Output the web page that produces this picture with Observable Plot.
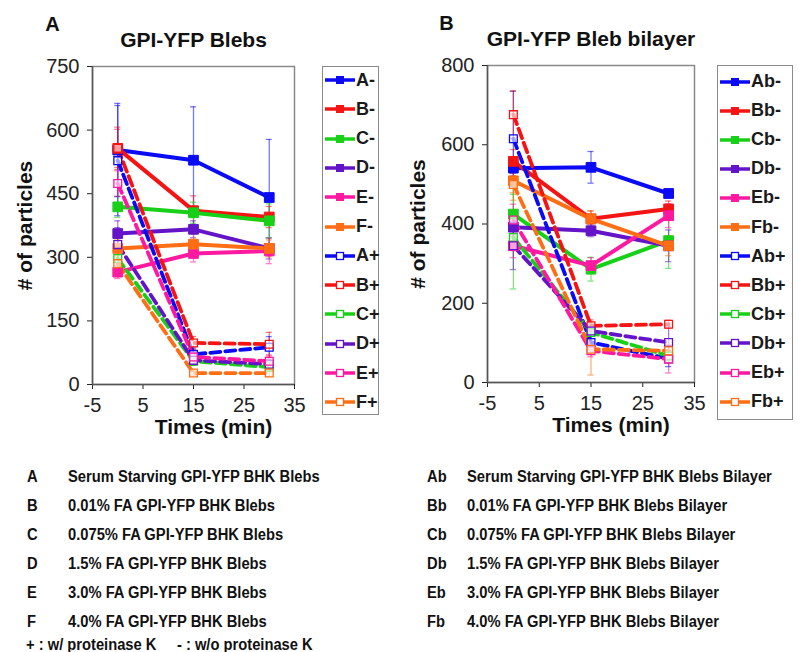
<!DOCTYPE html>
<html>
<head>
<meta charset="utf-8">
<script src="https://cdn.jsdelivr.net/npm/d3@7"></script>
<script src="https://cdn.jsdelivr.net/npm/@observablehq/plot@0.6"></script>
<style>
  body { margin: 0; background: #fff; }
  #fig { position: relative; width: 811px; height: 652px; font-family: "Liberation Sans", Arial, sans-serif; color: #1a1a1a; overflow: hidden; }
  .panel { position: absolute; top: 0; }
  .legend { position: absolute; border: 1.5px solid #8a8a8a; box-sizing: border-box; background: #fff; }
  .lg { position: absolute; display: flex; align-items: center; font-weight: bold; font-size: 18px; white-space: nowrap; }
  .lg svg { display: block; margin-right: 1px; }
  .note { position: absolute; font-family: "Liberation Sans", Arial, sans-serif; font-weight: bold; font-size: 16px; white-space: nowrap; line-height: 1; transform: translateY(-50%) scaleX(0.92); transform-origin: 0 50%; color: #111; }
</style>
</head>
<body>
<div id="fig"></div>
<script>
// ---------- data ----------
const times = [0, 15, 30];
const xTicks = [-5, 5, 15, 25, 35];
const yTicksA = [0, 150, 300, 450, 600, 750];
const yTicksB = [0, 200, 400, 600, 800];
const groupsA = ["A", "B", "C", "D", "E", "F"];
const groupsB = ["Ab", "Bb", "Cb", "Db", "Eb", "Fb"];
const seriesColors = ["#0a0af5", "#f51414", "#18d018", "#6414c8", "#ff18a0", "#ff6e14"];

// Panel A: GPI-YFP Blebs (w/o proteinase K = "-", w/ = "+")
const blebsMinus    = [[553, 529, 441], [557, 410, 395], [419, 405, 386], [356, 366, 321], [265, 309, 315], [321, 331, 321]];
const blebsMinusErr = [[110, 126, 137], [50, 35, 25], [25, 25, 40], [30, 20, 25], [15, 20, 30], [20, 25, 20]];
const blebsPlus     = [[528, 71, 88], [557, 98, 95], [297, 55, 41], [330, 57, 48], [474, 65, 55], [285, 27, 27]];
const blebsPlusErr  = [[130, 15, 25], [45, 15, 28], [20, 10, 10], [40, 10, 10], [30, 10, 15], [20, 5, 8]];

// Panel B: GPI-YFP Bleb bilayer
const bilayerMinus    = [[541, 543, 477], [558, 413, 438], [425, 286, 358], [392, 383, 345], [345, 295, 421], [509, 413, 345]];
const bilayerMinusErr = [[20, 40, 10], [30, 20, 20], [50, 30, 70], [40, 15, 40], [30, 20, 30], [30, 20, 25]];
const bilayerPlus     = [[615, 101, 60], [676, 143, 147], [366, 126, 67], [345, 130, 101], [410, 80, 59], [500, 84, 80]];
const bilayerPlusErr  = [[120, 25, 20], [60, 15, 10], [130, 20, 15], [60, 20, 40], [40, 15, 35], [40, 65, 15]];

const titleA = "GPI-YFP Blebs";
const titleB = "GPI-YFP Bleb bilayer";
const xLabel = "Times (min)";
const yLabel = "# of particles";

const notesA = ["Serum Starving GPI-YFP BHK Blebs", "0.01% FA GPI-YFP BHK Blebs", "0.075% FA GPI-YFP BHK Blebs",
                "1.5% FA GPI-YFP BHK Blebs", "3.0% FA GPI-YFP BHK Blebs", "4.0% FA GPI-YFP BHK Blebs"];
const notesB = ["Serum Starving GPI-YFP BHK Blebs Bilayer", "0.01% FA GPI-YFP BHK Blebs Bilayer", "0.075% FA GPI-YFP BHK Blebs Bilayer",
                "1.5% FA GPI-YFP BHK Blebs Bilayer", "3.0% FA GPI-YFP BHK Blebs Bilayer", "4.0% FA GPI-YFP BHK Blebs Bilayer"];
const footnote = "+ : w/ proteinase K\u00a0\u00a0\u00a0\u00a0\u00a0- : w/o proteinase K";

// ---------- build rows ----------
function rowsFor(groups, minus, minusErr, plus, plusErr) {
  const rows = [];
  groups.forEach((g, i) => {
    times.forEach((t, j) => {
      rows.push({key: g + "-", sign: "-", t, v: minus[i][j], err: minusErr[i][j], color: seriesColors[i]});
    });
  });
  groups.forEach((g, i) => {
    times.forEach((t, j) => {
      rows.push({key: g + "+", sign: "+", t, v: plus[i][j], err: plusErr[i][j], color: seriesColors[i]});
    });
  });
  return rows;
}

function panel(rows, yDomain, yTicks, title, letter, letterDx, opts) {
  const solid = rows.filter(d => d.sign === "-");
  const dashed = rows.filter(d => d.sign === "+");
  return Plot.plot({
    width: opts.width, height: 445,
    marginLeft: opts.marginLeft, marginRight: opts.marginRight,
    marginTop: opts.marginTop, marginBottom: 445 - opts.bottom,
    style: {fontFamily: "'Liberation Sans', Arial, sans-serif", fontSize: "20px", color: "#222", background: "transparent", overflow: "visible"},
    x: {domain: [-5, 35], ticks: xTicks},
    y: {domain: yDomain, ticks: yTicks},
    color: {type: "identity"},
    marks: [
      Plot.frame({stroke: "#8a8a8a", strokeWidth: 1.5}),
      Plot.axisX({ticks: xTicks, tickSize: 5, tickPadding: 8, label: null, fontSize: 20, tickFormat: d => String(d)}),
      Plot.axisY({ticks: yTicks, tickSize: 5, tickPadding: 8, label: null, fontSize: 20, tickFormat: d => String(d)}),
      Plot.ruleY([yDomain[0]], {stroke: "#555", strokeWidth: 1.5}),
      Plot.ruleX([-5], {stroke: "#555", strokeWidth: 1.5}),
      // error bars
      Plot.ruleX(rows, {x: "t", y1: d => d.v - d.err, y2: d => d.v + d.err, stroke: "color", strokeOpacity: 0.55, strokeWidth: 1.3}),
      Plot.ruleY(rows, {y: d => d.v + d.err, x1: d => d.t - 0.6, x2: d => d.t + 0.6, stroke: "color", strokeOpacity: 0.55, strokeWidth: 1.3}),
      Plot.ruleY(rows, {y: d => d.v - d.err, x1: d => d.t - 0.6, x2: d => d.t + 0.6, stroke: "color", strokeOpacity: 0.55, strokeWidth: 1.3}),
      // lines
      Plot.line(solid, {x: "t", y: "v", z: "key", stroke: "color", strokeWidth: 4}),
      Plot.line(dashed, {x: "t", y: "v", z: "key", stroke: "color", strokeWidth: 3.8, strokeDasharray: "10,5"}),
      Plot.dot(solid, {x: "t", y: "v", symbol: "square", r: 5.5, fill: "color", stroke: "color", strokeWidth: 1}),
      Plot.dot(dashed, {x: "t", y: "v", symbol: "square", r: 4.4, fill: "white", fillOpacity: 0.6, stroke: "color", strokeWidth: 1.3}),
      // labels
      Plot.text([yLabel], {text: d => d, frameAnchor: "left", dx: -opts.yLabelOffset, rotate: -90, fontWeight: "bold", fontSize: 21, textAnchor: "middle", lineAnchor: "middle", fill: "#111"}),
      Plot.text([xLabel], {text: d => d, frameAnchor: "bottom", dy: 43, dx: 20, fontWeight: "bold", fontSize: 21, textAnchor: "middle", lineAnchor: "middle", fill: "#111"}),
      Plot.text([title], {text: d => d, frameAnchor: "top", dy: -26, fontWeight: "bold", fontSize: 21, textAnchor: "middle", lineAnchor: "middle", fill: "#111"}),
      Plot.text([letter], {text: d => d, frameAnchor: "top-left", dx: letterDx, dy: -42, fontWeight: "bold", fontSize: 20, textAnchor: "middle", lineAnchor: "middle", fill: "#111"})
    ]
  });
}

const fig = document.getElementById("fig");

const rowsA = rowsFor(groupsA, blebsMinus, blebsMinusErr, blebsPlus, blebsPlusErr);
const rowsB = rowsFor(groupsB, bilayerMinus, bilayerMinusErr, bilayerPlus, bilayerPlusErr);

const pA = panel(rowsA, [0, 750], yTicksA, titleA, "A", -40, {width: 320, marginLeft: 92, marginRight: 26, marginTop: 66, bottom: 384, yLabelOffset: 67});
pA.classList.add("panel"); pA.style.left = "0px";
fig.appendChild(pA);

const pB = panel(rowsB, [0, 800], yTicksB, titleB, "B", -41, {width: 320, marginLeft: 107, marginRight: 6, marginTop: 65, bottom: 382, yLabelOffset: 69});
pB.classList.add("panel"); pB.style.left = "380px";
fig.appendChild(pB);

// ---------- legends ----------
function legend(groups, left, top, width, height, firstY, step, swLeft) {
  const box = document.createElement("div");
  box.className = "legend";
  Object.assign(box.style, {left: left + "px", top: top + "px", width: width + "px", height: height + "px"});
  fig.appendChild(box);
  const entries = [];
  groups.forEach((g, i) => entries.push({label: g + "-", color: seriesColors[i], open: false}));
  groups.forEach((g, i) => entries.push({label: g + "+", color: seriesColors[i], open: true}));
  entries.forEach((e, k) => {
    const div = document.createElement("div");
    div.className = "lg";
    div.style.left = swLeft + "px";
    div.style.top = (firstY + k * step - 11) + "px";
    div.style.height = "22px";
    const sq = e.open
      ? `<rect x="11.5" y="7.5" width="7" height="7" fill="#fff" stroke="${e.color}" stroke-width="1.3"/>`
      : `<rect x="11" y="7" width="8" height="8" fill="${e.color}"/>`;
    div.innerHTML = `<svg width="30" height="22"><line x1="0" x2="30" y1="11" y2="11" stroke="${e.color}" stroke-width="3.5"/>${sq}</svg><span>${e.label}</span>`;
    fig.appendChild(div);
  });
}
legend(groupsA, 322, 66, 57, 349, 80, 29.3, 325);
legend(groupsB, 717, 65, 76, 355, 81.5, 29.1, 720);

// ---------- notes ----------
const rowY = [477, 506, 535, 564, 593, 622];
function note(text, x, y) {
  const d = document.createElement("div");
  d.className = "note";
  d.textContent = text;
  d.style.left = x + "px";
  d.style.top = y + "px";
  fig.appendChild(d);
}
groupsA.forEach((g, i) => { note(g, 27, rowY[i]); note(notesA[i], 68, rowY[i]); });
groupsB.forEach((g, i) => { note(g, 427, rowY[i]); note(notesB[i], 467, rowY[i]); });
note(footnote, 26, 645);
</script>
</body>
</html>
